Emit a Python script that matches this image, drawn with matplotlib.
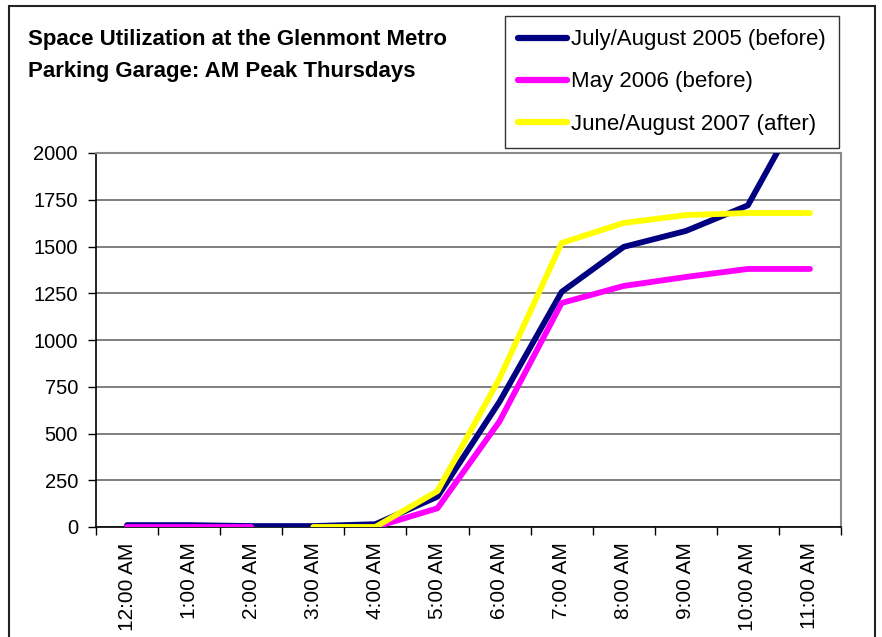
import numpy as np
import matplotlib
matplotlib.use('Agg')
import matplotlib.pyplot as plt
from matplotlib.patches import Rectangle

plt.rcParams['font.family'] = ['Liberation Sans', 'DejaVu Sans']

hours = ['12:00 AM', '1:00 AM', '2:00 AM', '3:00 AM', '4:00 AM', '5:00 AM',
         '6:00 AM', '7:00 AM', '8:00 AM', '9:00 AM', '10:00 AM', '11:00 AM']
jul_aug_2005 = [10, 10, 5, 5, 15, 162, 670, 1257, 1498, 1583, 1720, 2320]
may_2006 = [0, 0, 0, np.nan, 0, 100, 565, 1198, 1289, 1337, 1380, 1380]
jun_aug_2007 = [np.nan, np.nan, np.nan, 0, 0, 192, 795, 1519, 1626, 1668, 1679, 1679]

series = [
    ('July/August 2005 (before)', jul_aug_2005, '#000080'),
    ('May 2006 (before)', may_2006, '#FF00FF'),
    ('June/August 2007 (after)', jun_aug_2007, '#FFFF00'),
]

W, H = 882, 637
fig = plt.figure(figsize=(W / 100, H / 100), dpi=100)
ax = fig.add_axes([96 / W, 1 - 527 / H, (841 - 96) / W, (527 - 153) / H])

x = np.arange(len(hours))
for label, vals, col in series:
    ax.plot(x, vals, color=col, lw=4.2, label=label,
            solid_capstyle='round', solid_joinstyle='round', zorder=3)

ax.set_xlim(-0.5, len(hours) - 0.5)
ax.set_ylim(0, 2000)
ax.set_yticks(np.arange(0, 2001, 250))
ax.yaxis.grid(True, color='#6a6a6a', lw=1.2)
ax.set_axisbelow(True)

ax.set_xticks(x)
ax.set_xticklabels(hours, rotation=90, fontsize=15)
ax.set_xticks(np.arange(-0.5, len(hours)), minor=True)
ax.tick_params(axis='x', which='major', length=0, pad=11)
ax.tick_params(axis='x', which='minor', length=6, width=1, color='black', direction='out')
ax.tick_params(axis='y', length=6, width=1, direction='out', labelsize=14.5, pad=7)

for side in ['top', 'right']:
    ax.spines[side].set_color('#8a8a8a')
    ax.spines[side].set_linewidth(1.5)
for side in ['left', 'bottom']:
    ax.spines[side].set_color('black')
    ax.spines[side].set_linewidth(1.2)

fig.text(28 / W, 1 - 39 / H, 'Space Utilization at the Glenmont Metro',
         fontsize=16, fontweight='bold', va='center', ha='left')
fig.text(28 / W, 1 - 71 / H, 'Parking Garage: AM Peak Thursdays',
         fontsize=16, fontweight='bold', va='center', ha='left')

leg = fig.legend(loc='upper left', bbox_to_anchor=(505 / W, 1 - 16 / H),
                 fontsize=16, frameon=True, fancybox=False, shadow=False,
                 handlelength=2.2, handletextpad=0.15, labelspacing=0.95,
                 borderpad=0.6, borderaxespad=0)
leg.get_frame().set_edgecolor('black')
leg.get_frame().set_linewidth(1.0)
for h in leg.get_lines():
    h.set_linewidth(4.5)
    h.set_solid_capstyle('round')

fig.patches.append(Rectangle((9 / W, -0.05), (875 - 9) / W, 1 - 6 / H + 0.05,
                             transform=fig.transFigure, fill=False,
                             edgecolor='#222222', lw=1.5))

fig.savefig('out.png', dpi=100)
